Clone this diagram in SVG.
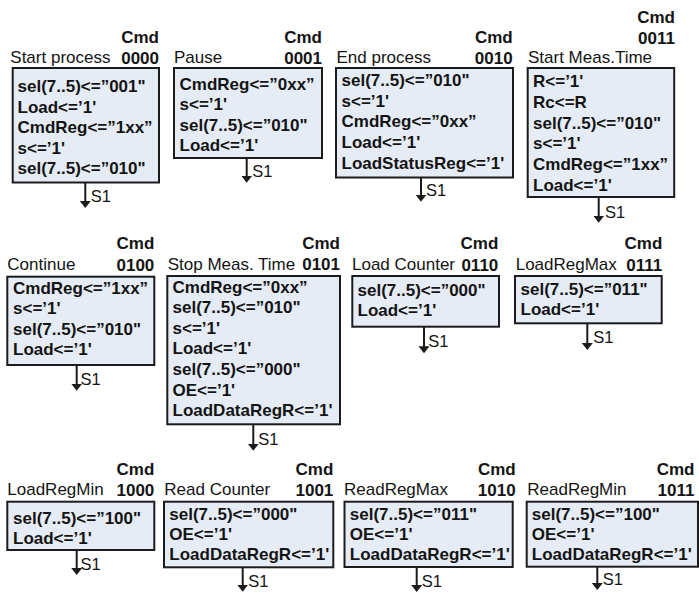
<svg xmlns="http://www.w3.org/2000/svg" width="699" height="593" viewBox="0 0 699 593">
  <style>
    text { font-family: "Liberation Sans", Arial, sans-serif; font-size: 17px; fill: #141414; }
    .box { fill: #e6ecf6; stroke: #1c1c1c; stroke-width: 2; }
    .act { font-weight: bold; }
    .name { font-weight: normal; }
    .cmd { font-weight: bold; text-anchor: end; }
    .edge { stroke: #1c1c1c; stroke-width: 2; fill: none; marker-end: url(#arrow); }
    .lbl { font-size: 16.5px; }
  </style>
  <defs>
    <marker id="arrow" markerUnits="userSpaceOnUse" markerWidth="8" markerHeight="12" viewBox="0 -6 8 12" refX="1" refY="0" orient="auto">
      <path d="M0,-5.5 L7,0 L0,5.5 z" fill="#1c1c1c"/>
    </marker>
  </defs>

  <!-- Row 1 -->
  <g id="cmd-0000">
    <text class="cmd" x="159" y="42.7">Cmd</text>
    <text class="cmd" x="159" y="63.5">0000</text>
    <text class="name" x="10.3" y="62.5">Start process</text>
    <rect class="box" x="12.7" y="68" width="146.3" height="114.5"/>
    <text class="act" x="17.5" y="92">sel(7..5)&lt;=”001"</text>
    <text class="act" x="17.5" y="112.5">Load&lt;=’1'</text>
    <text class="act" x="17.5" y="133">CmdReg&lt;=”1xx”</text>
    <text class="act" x="17.5" y="153.5">s&lt;=’1'</text>
    <text class="act" x="17.5" y="174">sel(7..5)&lt;=”010"</text>
  </g>

  <g id="cmd-0001">
    <text class="cmd" x="322" y="42.7">Cmd</text>
    <text class="cmd" x="322" y="63.5">0001</text>
    <text class="name" x="174" y="62.5">Pause</text>
    <rect class="box" x="174" y="68" width="148" height="90"/>
    <text class="act" x="179.5" y="89.5">CmdReg&lt;=”0xx”</text>
    <text class="act" x="179.5" y="110">s&lt;=’1'</text>
    <text class="act" x="179.5" y="130.5">sel(7..5)&lt;=”010"</text>
    <text class="act" x="179.5" y="151">Load&lt;=’1'</text>
  </g>

  <g id="cmd-0010">
    <text class="cmd" x="512.7" y="42.7">Cmd</text>
    <text class="cmd" x="512.7" y="63.5">0010</text>
    <text class="name" x="336.5" y="63">End process</text>
    <rect class="box" x="336" y="68" width="177" height="109.5"/>
    <text class="act" x="341.5" y="86">sel(7..5)&lt;=”010"</text>
    <text class="act" x="341.5" y="106.7">s&lt;=’1'</text>
    <text class="act" x="341.5" y="127.4">CmdReg&lt;=”0xx”</text>
    <text class="act" x="341.5" y="148">Load&lt;=’1'</text>
    <text class="act" x="341.5" y="168.7">LoadStatusReg&lt;=’1'</text>
  </g>

  <g id="cmd-0011">
    <text class="cmd" x="675" y="22.7">Cmd</text>
    <text class="cmd" x="675" y="44">0011</text>
    <text class="name" x="528" y="63">Start Meas.Time</text>
    <rect class="box" x="527.7" y="68" width="146.5" height="129"/>
    <text class="act" x="533" y="87">R&lt;=’1'</text>
    <text class="act" x="533" y="107.8">Rc&lt;=R</text>
    <text class="act" x="533" y="128.6">sel(7..5)&lt;=”010"</text>
    <text class="act" x="533" y="149.4">s&lt;=’1'</text>
    <text class="act" x="533" y="170.2">CmdReg&lt;=”1xx”</text>
    <text class="act" x="533" y="191">Load&lt;=’1'</text>
  </g>

  <!-- Row 2 -->
  <g id="cmd-0100">
    <text class="cmd" x="154.3" y="249">Cmd</text>
    <text class="cmd" x="154.3" y="270.5">0100</text>
    <text class="name" x="7.3" y="269.5">Continue</text>
    <rect class="box" x="7.3" y="276.7" width="147" height="88.3"/>
    <text class="act" x="13" y="294.3">CmdReg&lt;=”1xx”</text>
    <text class="act" x="13" y="314.3">s&lt;=’1'</text>
    <text class="act" x="13" y="334.5">sel(7..5)&lt;=”010"</text>
    <text class="act" x="13" y="354.5">Load&lt;=’1'</text>
  </g>

  <g id="cmd-0101">
    <text class="cmd" x="340" y="248.5">Cmd</text>
    <text class="cmd" x="340" y="269.5">0101</text>
    <text class="name" x="167.7" y="269.5">Stop Meas. Time</text>
    <rect class="box" x="167.3" y="276" width="172.7" height="148.3"/>
    <text class="act" x="172.5" y="292.7">CmdReg&lt;=”0xx”</text>
    <text class="act" x="172.5" y="313.3">sel(7..5)&lt;=”010"</text>
    <text class="act" x="172.5" y="333.8">s&lt;=’1'</text>
    <text class="act" x="172.5" y="354.4">Load&lt;=’1'</text>
    <text class="act" x="172.5" y="374.9">sel(7..5)&lt;=”000"</text>
    <text class="act" x="172.5" y="395.5">OE&lt;=’1'</text>
    <text class="act" x="172.5" y="416">LoadDataRegR&lt;=’1'</text>
  </g>

  <g id="cmd-0110">
    <text class="cmd" x="498.3" y="249.3">Cmd</text>
    <text class="cmd" x="498.3" y="270.5">0110</text>
    <text class="name" x="352" y="270">Load Counter</text>
    <rect class="box" x="352.3" y="276" width="146.7" height="50.7"/>
    <text class="act" x="357.5" y="296">sel(7..5)&lt;=”000"</text>
    <text class="act" x="357.5" y="316">Load&lt;=’1'</text>
  </g>

  <g id="cmd-0111">
    <text class="cmd" x="662.3" y="249.3">Cmd</text>
    <text class="cmd" x="662.3" y="270.5">0111</text>
    <text class="name" x="515.7" y="270">LoadRegMax</text>
    <rect class="box" x="515" y="276" width="146.7" height="47.3"/>
    <text class="act" x="520.5" y="295.3">sel(7..5)&lt;=”011"</text>
    <text class="act" x="520.5" y="315.3">Load&lt;=’1'</text>
  </g>

  <!-- Row 3 -->
  <g id="cmd-1000">
    <text class="cmd" x="154.3" y="475">Cmd</text>
    <text class="cmd" x="154.3" y="495.5">1000</text>
    <text class="name" x="7.3" y="495">LoadRegMin</text>
    <rect class="box" x="7.3" y="501.7" width="147" height="48.3"/>
    <text class="act" x="13" y="524.3">sel(7..5)&lt;=”100"</text>
    <text class="act" x="13" y="543.7">Load&lt;=’1'</text>
  </g>

  <g id="cmd-1001">
    <text class="cmd" x="333.3" y="475">Cmd</text>
    <text class="cmd" x="333.3" y="495.5">1001</text>
    <text class="name" x="164.3" y="495">Read Counter</text>
    <rect class="box" x="164" y="501.7" width="169.3" height="65.6"/>
    <text class="act" x="169.3" y="520">sel(7..5)&lt;=”000"</text>
    <text class="act" x="169.3" y="540">OE&lt;=’1'</text>
    <text class="act" x="169.3" y="560">LoadDataRegR&lt;=’1'</text>
  </g>

  <g id="cmd-1010">
    <text class="cmd" x="515.7" y="475">Cmd</text>
    <text class="cmd" x="515.7" y="495.5">1010</text>
    <text class="name" x="344" y="495">ReadRegMax</text>
    <rect class="box" x="344.5" y="501.7" width="168.2" height="65.3"/>
    <text class="act" x="349.8" y="520">sel(7..5)&lt;=”011"</text>
    <text class="act" x="349.8" y="540">OE&lt;=’1'</text>
    <text class="act" x="349.8" y="560">LoadDataRegR&lt;=’1'</text>
  </g>

  <g id="cmd-1011">
    <text class="cmd" x="694.5" y="475">Cmd</text>
    <text class="cmd" x="694.5" y="495.5">1011</text>
    <text class="name" x="527.3" y="495">ReadRegMin</text>
    <rect class="box" x="526.7" y="501.7" width="171.3" height="65"/>
    <text class="act" x="531.8" y="519.5">sel(7..5)&lt;=”100"</text>
    <text class="act" x="531.8" y="539.5">OE&lt;=’1'</text>
    <text class="act" x="531.8" y="559.5">LoadDataRegR&lt;=’1'</text>
  </g>

  <!-- Transitions back to state S1 -->
  <g id="connectors">
    <path class="edge" d="M85.3,183 V202"/>
    <text class="lbl" x="90.7" y="202">S1</text>
    <path class="edge" d="M246.7,158 V176.7"/>
    <text class="lbl" x="252.3" y="176.7">S1</text>
    <path class="edge" d="M421,177.5 V195.7"/>
    <text class="lbl" x="426" y="196">S1</text>
    <path class="edge" d="M598.7,197 V216.7"/>
    <text class="lbl" x="605" y="218.3">S1</text>
    <path class="edge" d="M76.7,365 V384.7"/>
    <text class="lbl" x="80.5" y="385">S1</text>
    <path class="edge" d="M253.3,424.3 V444.7"/>
    <text class="lbl" x="258.3" y="445">S1</text>
    <path class="edge" d="M424,326.7 V347.3"/>
    <text class="lbl" x="428.3" y="347.3">S1</text>
    <path class="edge" d="M587.3,323.3 V344"/>
    <text class="lbl" x="593.3" y="343.3">S1</text>
    <path class="edge" d="M76.7,550 V569"/>
    <text class="lbl" x="80.5" y="570">S1</text>
    <path class="edge" d="M242.7,567.3 V585.7"/>
    <text class="lbl" x="248.3" y="586.7">S1</text>
    <path class="edge" d="M416.7,567 V586"/>
    <text class="lbl" x="421.7" y="586.7">S1</text>
    <path class="edge" d="M597.3,566.7 V584"/>
    <text class="lbl" x="602.7" y="585">S1</text>
  </g>
</svg>
